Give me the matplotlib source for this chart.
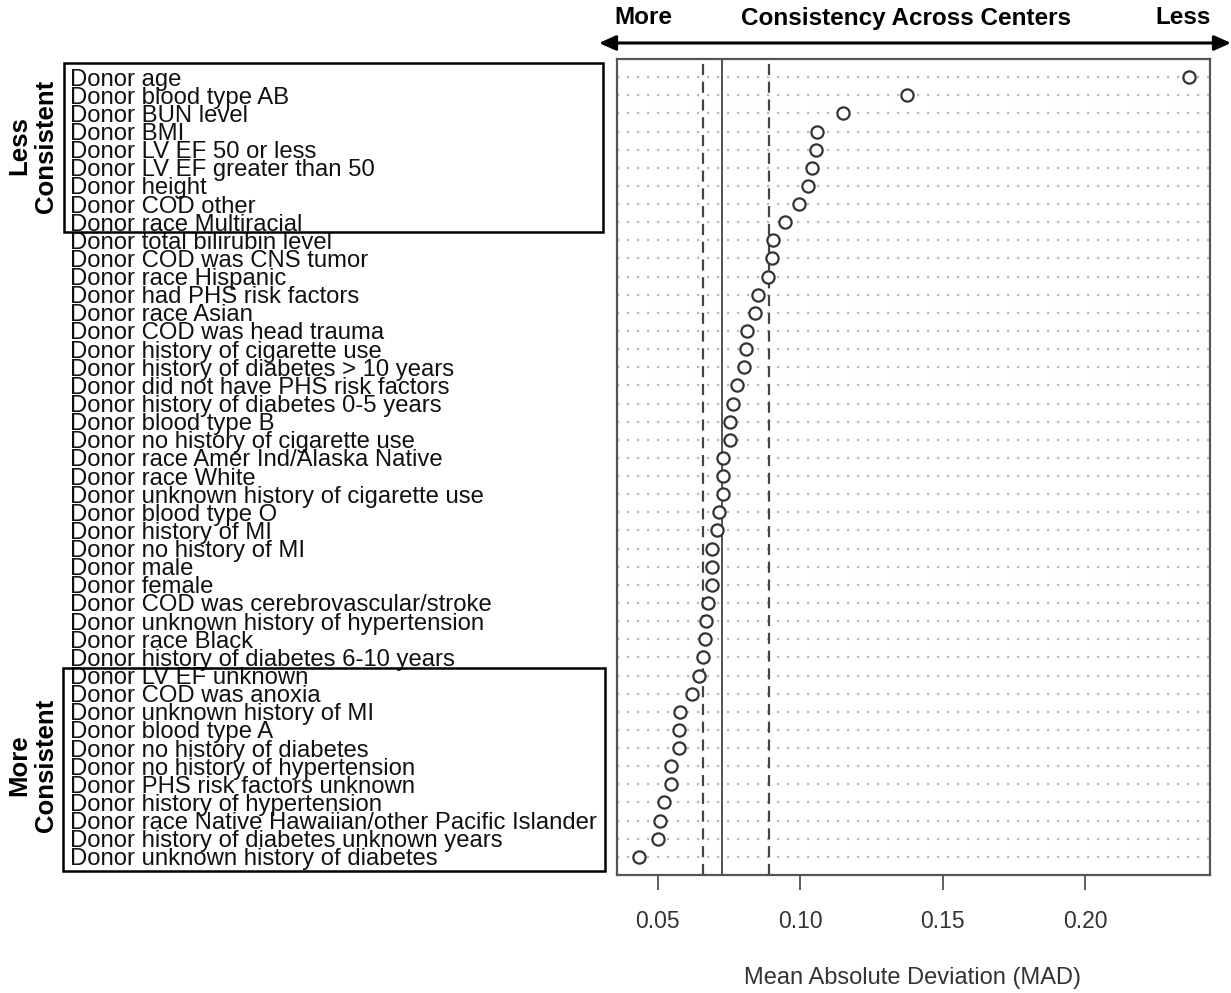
import matplotlib.pyplot as plt
from matplotlib.patches import Rectangle
from matplotlib.transforms import blended_transform_factory
import numpy as np

plt.rcParams['font.family'] = ['Liberation Sans', 'DejaVu Sans']

# donor factors, top row first
factors = ["Donor age", "Donor blood type AB", "Donor BUN level", "Donor BMI",
           "Donor LV EF 50 or less", "Donor LV EF greater than 50", "Donor height",
           "Donor COD other", "Donor race Multiracial", "Donor total bilirubin level",
           "Donor COD was CNS tumor", "Donor race Hispanic", "Donor had PHS risk factors",
           "Donor race Asian", "Donor COD was head trauma", "Donor history of cigarette use",
           "Donor history of diabetes > 10 years", "Donor did not have PHS risk factors",
           "Donor history of diabetes 0-5 years", "Donor blood type B",
           "Donor no history of cigarette use", "Donor race Amer Ind/Alaska Native",
           "Donor race White", "Donor unknown history of cigarette use", "Donor blood type O",
           "Donor history of MI", "Donor no history of MI", "Donor male", "Donor female",
           "Donor COD was cerebrovascular/stroke", "Donor unknown history of hypertension",
           "Donor race Black", "Donor history of diabetes 6-10 years", "Donor LV EF unknown",
           "Donor COD was anoxia", "Donor unknown history of MI", "Donor blood type A",
           "Donor no history of diabetes", "Donor no history of hypertension",
           "Donor PHS risk factors unknown", "Donor history of hypertension",
           "Donor race Native Hawaiian/other Pacific Islander",
           "Donor history of diabetes unknown years", "Donor unknown history of diabetes"]

mad = [0.2363, 0.1374, 0.1151, 0.1058, 0.1057, 0.1042, 0.1028, 0.0996, 0.0948, 0.0903,
       0.0901, 0.0888, 0.0852, 0.0840, 0.0814, 0.0809, 0.0804, 0.0778, 0.0764, 0.0754,
       0.0754, 0.0729, 0.0729, 0.0729, 0.0715, 0.0708, 0.0689, 0.0689, 0.0689, 0.0677,
       0.0668, 0.0665, 0.0660, 0.0645, 0.0620, 0.0578, 0.0576, 0.0575, 0.0548, 0.0547,
       0.0521, 0.0507, 0.0500, 0.0435]

ref_dashed = [0.0658, 0.0891]  # dashed reference lines
ref_solid = 0.0726             # solid reference line (median)
xticks = [0.05, 0.10, 0.15, 0.20]

W, H = 1231, 993
fig = plt.figure(figsize=(W / 100, H / 100), dpi=100)

def fx(px):
    return px / W

def fy(py):
    return 1 - py / H

ax = fig.add_axes([fx(617), fy(875), fx(1210 - 617), (875 - 59) / H])

n = len(factors)
ypos = np.arange(n, 0, -1)

# dotted guide line for every row
for y in ypos:
    ax.axhline(y, color='#b8b8b8', lw=1.6, ls=(0, (1, 3.5)), zorder=1)

for v in ref_dashed:
    ax.axvline(v, color='#444444', lw=1.6, ls=(0, (5, 3)), zorder=2)
ax.axvline(ref_solid, color='#444444', lw=1.3, zorder=2)

ax.plot(mad, ypos, 'o', ms=8.8, mfc='white', mec='#333333', mew=1.6, ls='none', zorder=3)

ax.set_xlim(0.0357, 0.2438)
ax.set_ylim(0, n + 1)
ax.set_yticks([])
ax.set_xticks(xticks)
ax.set_xticklabels(['%.2f' % t for t in xticks])
ax.tick_params(axis='x', direction='out', length=11, width=1.2, color='#444444',
               labelsize=16.5, labelcolor='#333333', pad=14)
for s in ax.spines.values():
    s.set_color('#555555')
    s.set_linewidth(1.6)

fig.text(fx(913), fy(978), 'Mean Absolute Deviation (MAD)', ha='center', va='center',
         fontsize=17, color='#333333')

# row labels on the left
tr = blended_transform_factory(fig.transFigure, ax.transData)
for lab, y in zip(factors, ypos):
    ax.text(fx(70), y, lab, transform=tr, ha='left', va='center_baseline',
            fontsize=17.2, color='#111111', clip_on=False)

# boxes around less / more consistent groups
fig.patches.append(Rectangle((fx(64), fy(232)), fx(603 - 64), (232 - 63) / H,
                             transform=fig.transFigure, fill=False, ec='black', lw=1.8))
fig.patches.append(Rectangle((fx(63), fy(871)), fx(605 - 63), (871 - 668) / H,
                             transform=fig.transFigure, fill=False, ec='black', lw=1.8))

fig.text(fx(33), fy(146), 'Less\nConsistent', rotation=90, ha='center', va='center',
         fontsize=18.5, fontweight='bold', multialignment='center', linespacing=1.15)
fig.text(fx(33), fy(765), 'More\nConsistent', rotation=90, ha='center', va='center',
         fontsize=18.5, fontweight='bold', multialignment='center', linespacing=1.15)

# top arrow and titles
ax.annotate('', xy=(fx(599), fy(43)), xytext=(fx(1231), fy(43)), xycoords='figure fraction',
            textcoords='figure fraction',
            arrowprops=dict(arrowstyle='<|-|>,head_length=1.0,head_width=0.45',
                            color='black', lw=2.2, shrinkA=0, shrinkB=0))
fig.text(fx(614), fy(18), 'More', ha='left', va='center', fontsize=17.5, fontweight='bold')
fig.text(fx(906), fy(18), 'Consistency Across Centers', ha='center', va='center',
         fontsize=17.5, fontweight='bold')
fig.text(fx(1211), fy(18), 'Less', ha='right', va='center', fontsize=17.5, fontweight='bold')

fig.savefig('out.png', dpi=100)
